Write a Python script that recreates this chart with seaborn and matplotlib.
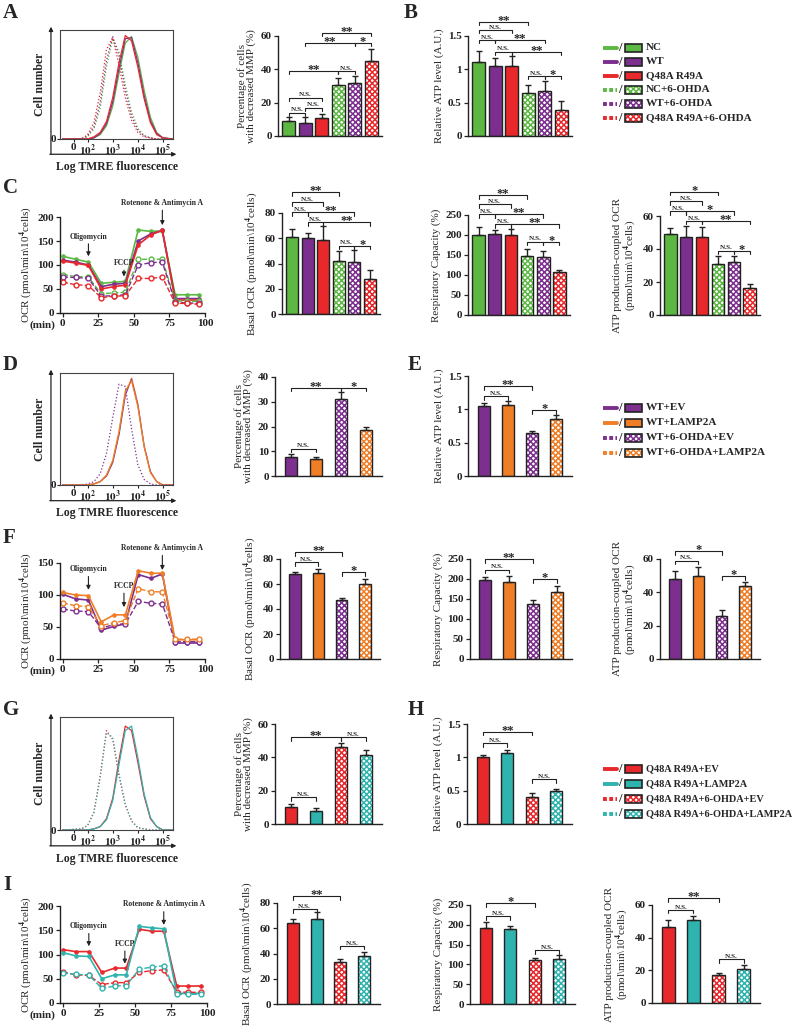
import numpy as np
import pandas as pd
import matplotlib
matplotlib.use("Agg")
import matplotlib.pyplot as plt
import seaborn as sns
from matplotlib.patches import Rectangle
from matplotlib.lines import Line2D

sns.set_style("ticks")
plt.rcParams['font.family'] = ['Liberation Serif', 'DejaVu Serif']
plt.rcParams['font.weight'] = 'bold'
plt.rcParams['mathtext.fontset'] = 'stix'
plt.rcParams['hatch.linewidth'] = 1.1

W, H = 800, 1027
DARK = '#222222'

GREEN = '#5cb843'
PURPLE = '#7d2f8f'
RED = '#e8282b'
ORANGE = '#f07e26'
TEAL = '#2fb3ae'

# ---- groups ----
groups_1 = ['NC', 'WT', 'Q48A R49A', 'NC+6-OHDA', 'WT+6-OHDA', 'Q48A R49A+6-OHDA']
colors_1 = [GREEN, PURPLE, RED, GREEN, PURPLE, RED]
treated_1 = [False, False, False, True, True, True]

groups_2 = ['WT+EV', 'WT+LAMP2A', 'WT+6-OHDA+EV', 'WT+6-OHDA+LAMP2A']
colors_2 = [PURPLE, ORANGE, PURPLE, ORANGE]
treated_2 = [False, False, True, True]

groups_3 = ['Q48A R49A+EV', 'Q48A R49A+LAMP2A', 'Q48A R49A+6-OHDA+EV', 'Q48A R49A+6-OHDA+LAMP2A']
colors_3 = [RED, TEAL, RED, TEAL]
treated_3 = [False, False, True, True]

# ---- flow cytometry histograms (log10 fluorescence vs % of max) ----
hist_x = [1.0, 1.75, 2.0, 2.25, 2.5, 2.75, 3.0, 3.25, 3.5, 3.75, 4.0, 4.25, 4.5, 4.75, 5.0, 5.4]
hist_A = [
    [0, 0, 0, 1, 4, 12, 30, 60, 88, 94, 75, 45, 20, 6, 1, 0],
    [0, 0, 0, 1, 5, 14, 34, 65, 92, 93, 70, 40, 17, 5, 1, 0],
    [0, 0, 0, 2, 6, 16, 38, 70, 95, 90, 66, 37, 15, 4, 1, 0],
    [0, 0, 2, 9, 28, 66, 92, 80, 50, 25, 10, 3, 1, 0, 0, 0],
    [0, 0, 3, 11, 33, 72, 94, 76, 45, 21, 8, 3, 1, 0, 0, 0],
    [0, 0, 4, 15, 42, 82, 93, 68, 38, 17, 6, 2, 1, 0, 0, 0],
]
hist_D = [
    [0, 0, 0, 1, 3, 8, 20, 45, 80, 95, 72, 35, 12, 3, 0, 0],
    [0, 0, 0, 1, 3, 9, 22, 48, 84, 93, 70, 34, 11, 3, 0, 0],
    [0, 0, 1, 3, 10, 28, 60, 90, 88, 50, 18, 5, 1, 0, 0, 0],
    [0, 0, 0, 1, 3, 8, 21, 46, 82, 96, 73, 36, 12, 3, 0, 0],
]
hist_G = [
    [0, 0, 0, 1, 3, 10, 28, 62, 92, 88, 60, 30, 10, 3, 0, 0],
    [0, 0, 0, 1, 3, 9, 26, 58, 88, 92, 64, 32, 11, 3, 0, 0],
    [0, 1, 4, 16, 48, 88, 80, 48, 22, 8, 2, 1, 0, 0, 0, 0],
    [0, 1, 4, 15, 46, 86, 82, 50, 23, 8, 2, 1, 0, 0, 0, 0],
]
hist_ticks = [1.45, 2, 3, 4, 5]
hist_ticklabels = ['0', '$10^2$', '$10^3$', '$10^4$', '$10^5$']

# ---- OCR time courses ----
ocr_time = [0, 9, 18, 27, 36, 44, 53, 62, 70, 79, 87, 96]
ocr_C = [
    [118, 112, 106, 62, 64, 66, 173, 170, 171, 38, 38, 38],
    [110, 106, 100, 55, 60, 62, 150, 165, 172, 30, 30, 30],
    [108, 104, 99, 50, 55, 58, 142, 163, 172, 27, 27, 27],
    [80, 76, 75, 40, 42, 43, 112, 112, 112, 25, 25, 24],
    [75, 74, 72, 35, 36, 38, 100, 105, 106, 22, 21, 20],
    [64, 59, 57, 32, 35, 36, 72, 72, 75, 20, 20, 18],
]
ocr_F = [
    [101, 94, 92, 45, 51, 55, 132, 126, 133, 25, 25, 25],
    [104, 100, 99, 58, 69, 69, 138, 134, 134, 30, 30, 30],
    [78, 75, 74, 48, 54, 55, 90, 87, 86, 27, 27, 27],
    [88, 83, 82, 52, 57, 60, 110, 105, 105, 31, 31, 31],
]
ocr_I = [
    [110, 106, 106, 63, 72, 72, 152, 148, 148, 35, 35, 35],
    [104, 97, 96, 50, 58, 58, 158, 155, 153, 20, 20, 20],
    [64, 58, 57, 38, 42, 42, 63, 67, 68, 23, 22, 22],
    [62, 59, 58, 30, 35, 36, 70, 74, 77, 18, 18, 18],
]
arrows_C = [('Oligomycin', 18, 118, 151), ('FCCP', 43, 76, 96), ('Rotenone & Antimycin A', 70, 183, 221)]
arrows_F = [('Oligomycin', 18, 108, 134), ('FCCP', 43, 81, 108), ('Rotenone & Antimycin A', 70, 139, 167)]
arrows_I = [('Oligomycin', 18, 117, 150), ('FCCP', 43, 81, 114), ('Rotenone & Antimycin A', 70, 161, 195)]

# ---- bar data (mean, SD) ----
mmp_A = [9, 8, 10.5, 30.5, 32, 45]
mmp_A_err = [2.5, 3.5, 2.5, 4, 4, 7]
atp_B = [1.11, 1.05, 1.05, 0.64, 0.68, 0.39]
atp_B_err = [0.16, 0.12, 0.15, 0.12, 0.15, 0.13]
basal_C = [61, 60, 59, 42, 41, 28]
basal_C_err = [6, 4, 11, 8, 10, 7]
resp_C = [201, 203, 201, 148, 145, 108]
resp_C_err = [18, 10, 14, 18, 15, 5]
atpocr_C = [49, 47.5, 47, 31, 32, 16.5]
atpocr_C_err = [4, 6.5, 6.5, 4.5, 3.5, 2]

mmp_D = [7.5, 7, 31, 18.5]
mmp_D_err = [1.3, 0.8, 3, 1.5]
atp_E = [1.05, 1.07, 0.64, 0.85]
atp_E_err = [0.05, 0.06, 0.04, 0.06]
basal_F = [68, 69, 47, 60]
basal_F_err = [2, 3, 1.5, 4]
resp_F = [198, 192, 138, 168]
resp_F_err = [8, 15, 10, 15]
atpocr_F = [48, 50, 26, 44]
atpocr_F_err = [5, 5, 3.5, 2.5]

mmp_G = [10, 8, 46, 41.5]
mmp_G_err = [2, 1.5, 2.5, 3]
atp_H = [1.0, 1.06, 0.41, 0.5]
atp_H_err = [0.04, 0.05, 0.05, 0.03]
basal_I = [64.5, 67.5, 33.5, 38]
basal_I_err = [2.5, 5, 2.5, 3.5]
resp_I = [192, 190, 110, 114]
resp_I_err = [15, 8, 5, 10]
atpocr_I = [46.5, 51, 17, 21]
atpocr_I_err = [4.5, 2.5, 1.2, 2.5]

# significance brackets: (bar i, bar j, height, label)
sig_A = [(0, 1, 14, 'N.S.'), (1, 2, 17, 'N.S.'), (0, 2, 23, 'N.S.'), (0, 3, 39, '**'),
         (3, 4, 39, 'N.S.'), (1, 4, 56, '**'), (4, 5, 56, '*'), (2, 5, 62, '**')]
sig_B = [(0, 3, 1.715, '**'), (0, 2, 1.59, 'N.S.'), (0, 1, 1.44, 'N.S.'), (1, 4, 1.44, '**'),
         (1, 2, 1.265, 'N.S.'), (2, 5, 1.265, '**'), (3, 4, 0.9, 'N.S.'), (4, 5, 0.9, '*')]
sig_C1 = [(0, 3, 96.4, '**'), (0, 2, 88.7, 'N.S.'), (0, 1, 80.5, 'N.S.'), (1, 4, 80.5, '**'),
          (1, 2, 72.6, 'N.S.'), (2, 5, 72.6, '**'), (3, 4, 54, 'N.S.'), (4, 5, 54, '*')]
sig_C2 = [(0, 3, 300, '**'), (0, 2, 277, 'N.S.'), (0, 1, 252, 'N.S.'), (1, 4, 252, '**'),
          (1, 2, 227, 'N.S.'), (2, 5, 227, '**'), (3, 4, 183, 'N.S.'), (4, 5, 183, '*')]
sig_C3 = [(0, 3, 74.7, '*'), (0, 2, 69, 'N.S.'), (0, 1, 63, 'N.S.'), (1, 4, 63, '*'),
          (1, 2, 57, 'N.S.'), (2, 5, 57, '**'), (3, 4, 39, 'N.S.'), (4, 5, 39, '*')]
sig_D = [(0, 1, 11.1, 'N.S.'), (0, 2, 35.7, '**'), (2, 3, 35.7, '*')]
sig_E = [(0, 2, 1.35, '**'), (0, 1, 1.2, 'N.S.'), (2, 3, 0.99, '*')]
sig_F1 = [(0, 2, 85.5, '**'), (0, 1, 77.5, 'N.S.'), (2, 3, 69.4, '*')]
sig_F2 = [(0, 2, 250, '**'), (0, 1, 223, 'N.S.'), (2, 3, 200, '*')]
sig_F3 = [(0, 2, 64.6, '*'), (0, 1, 59, 'N.S.'), (2, 3, 49.6, '*')]
sig_G = [(0, 1, 16, 'N.S.'), (0, 2, 52, '**'), (2, 3, 52, 'N.S.')]
sig_H = [(0, 2, 1.385, '**'), (0, 1, 1.21, 'N.S.'), (2, 3, 0.67, 'N.S.')]
sig_I1 = [(0, 2, 85.3, '**'), (0, 1, 75.2, 'N.S.'), (2, 3, 46, 'N.S.')]
sig_I2 = [(0, 2, 254, '*'), (0, 1, 222, 'N.S.'), (2, 3, 136, 'N.S.')]
sig_I3 = [(0, 2, 64, '**'), (0, 1, 57, 'N.S.'), (2, 3, 26.8, 'N.S.')]

OCR_LABEL = r'OCR (pmol\min\10$^4$cells)'
BASAL_LABEL = r'Basal OCR (pmol\min\10$^4$cells)'
RESP_LABEL = 'Respiratory Capacity (%)'
ATPOCR_LABEL = 'ATP production-coupled OCR\n' + r'(pmol\min\10$^4$cells)'
MMP_LABEL = 'Percentage of cells\nwith decreased MMP (%)'
ATP_LABEL = 'Relative ATP level (A.U.)'

fig = plt.figure(figsize=(8, 10.27), dpi=100)


def add_px_axes(x0, x1, ytop, ybot):
    return fig.add_axes([x0 / W, 1 - ybot / H, (x1 - x0) / W, (ybot - ytop) / H])


def style_axes(ax):
    sns.despine(ax=ax)
    ax.tick_params(axis='both', labelsize=8, width=0.9, length=3, pad=1.5, colors=DARK)
    for s in ['left', 'bottom']:
        ax.spines[s].set_linewidth(1.0)
        ax.spines[s].set_color(DARK)


def bar_panel(rect, values, errs, groups, colors, treated, ylim, yticks, ylabel, sig, width):
    ax = add_px_axes(*rect)
    df = pd.DataFrame({'group': groups, 'value': values})
    sns.barplot(data=df, x='group', y='value', hue='group', palette=colors, legend=False,
                errorbar=None, width=width, edgecolor=DARK, linewidth=1.0, saturation=1, ax=ax)
    centers = []
    for p, col, hat in zip(ax.patches, colors, treated):
        centers.append(p.get_x() + p.get_width() / 2)
        if hat:
            p.set_facecolor('white')
            p.set_edgecolor(col)
            p.set_hatch('xxxxxx')
            p.set_linewidth(0)
            ax.add_patch(Rectangle(p.get_xy(), p.get_width(), p.get_height(),
                                   fill=False, edgecolor=DARK, linewidth=1.0, zorder=p.get_zorder() + 0.1))
    ax.errorbar(centers, values, yerr=[np.zeros(len(values)), errs], fmt='none',
                ecolor=DARK, elinewidth=1.0, capsize=2.5, capthick=1.0, zorder=1)
    ax.set_ylim(*ylim)
    ax.set_yticks(yticks)
    ax.set_yticklabels([('%g' % t) for t in yticks])
    ax.set_xlim(-0.65, len(values) - 0.35)
    ax.set_xticks([])
    ax.set_xlabel('')
    ax.set_ylabel(ylabel, fontsize=8, labelpad=3, linespacing=1.0)
    style_axes(ax)
    ymax = ylim[1]
    tick = 0.035 * ymax
    for i, j, y, lab in sig:
        x0, x1 = centers[i], centers[j]
        ax.plot([x0, x0, x1, x1], [y - tick, y, y, y - tick], color=DARK, lw=0.8, clip_on=False)
        if lab == 'N.S.':
            ax.text((x0 + x1) / 2, y + 0.004 * ymax, lab, ha='center', va='bottom', fontsize=5.2, clip_on=False)
        else:
            ax.text((x0 + x1) / 2, y - 0.05 * ymax, lab, ha='center', va='bottom', fontsize=9, clip_on=False)
    return ax


def ocr_panel(rect, series, colors, treated, ylim, yticks, arrows):
    ax = add_px_axes(*rect)
    for vals, col, dash in zip(series, colors, treated):
        if dash:
            sns.lineplot(x=ocr_time, y=vals, color=col, linestyle='--', linewidth=1.0, marker='o',
                         markersize=3.5, markerfacecolor='white', markeredgecolor=col, markeredgewidth=1.0, ax=ax)
        else:
            sns.lineplot(x=ocr_time, y=vals, color=col, linestyle='-', linewidth=1.2, marker='o',
                         markersize=2.5, markerfacecolor=col, markeredgecolor=col, ax=ax)
    ax.set_xlim(-2, 100)
    ax.set_ylim(*ylim)
    ax.set_xticks([0, 25, 50, 75, 100])
    ax.set_yticks(yticks)
    ax.set_ylabel(OCR_LABEL, fontsize=8, labelpad=2)
    style_axes(ax)
    ax.text(-0.03, -0.075, '(min)', transform=ax.transAxes, ha='right', va='top', fontsize=8)
    for lab, xt, ytip, ytext in arrows:
        ax.annotate(lab, xy=(xt, ytip), xytext=(xt, ytext), ha='center', va='bottom', fontsize=5.5,
                    annotation_clip=False,
                    arrowprops=dict(arrowstyle='-|>', color=DARK, lw=0.8, mutation_scale=6, shrinkA=0, shrinkB=0))
    return ax


def hist_panel(rect, curves, colors, treated):
    ax = add_px_axes(*rect)
    for vals, col, dot in zip(curves, colors, treated):
        sns.lineplot(x=hist_x, y=vals, color=col, linewidth=0.9, linestyle=':' if dot else '-', ax=ax)
    ax.set_xlim(0.9, 5.4)
    ax.set_ylim(0, 100)
    ax.set_xticks(hist_ticks)
    ax.set_xticklabels(hist_ticklabels)
    ax.set_yticks([0])
    ax.set_yticklabels(['0'])
    ax.tick_params(axis='both', labelsize=8, width=0.8, length=2, pad=1, colors=DARK)
    for s in ax.spines.values():
        s.set_linewidth(0.8)
        s.set_color('#444444')
    arrow = dict(arrowstyle='-|>', color=DARK, lw=0.9, mutation_scale=6, shrinkA=0, shrinkB=0)
    ax.annotate('', xy=(1.03, -0.14), xytext=(-0.09, -0.14), xycoords='axes fraction', arrowprops=arrow)
    ax.annotate('', xy=(-0.08, 1.03), xytext=(-0.08, -0.14), xycoords='axes fraction', arrowprops=arrow)
    ax.text(0.5, -0.2, 'Log TMRE fluorescence', transform=ax.transAxes, ha='center', va='top', fontsize=8.5)
    ax.text(-0.18, 0.5, 'Cell number', transform=ax.transAxes, ha='center', va='center',
            rotation=90, fontsize=8.5)
    return ax


def legend_block(x0, y0, labels, colors, treated, row_h, fs):
    ax = add_px_axes(x0, x0 + 195, y0, y0 + row_h * len(labels))
    ax.set_xlim(0, 195)
    ax.set_ylim(row_h * len(labels), 0)
    ax.axis('off')
    for k, (lab, col, hat) in enumerate(zip(labels, colors, treated)):
        y = row_h * k + row_h / 2
        ax.add_line(Line2D([0, 14], [y, y], color=col, lw=2.8, linestyle=(0, (1, 0.6)) if hat else '-'))
        ax.text(17, y, '/', ha='center', va='center', fontsize=9)
        if hat:
            ax.add_patch(Rectangle((22, y - 4), 17, 8, facecolor='white', edgecolor=col, hatch='xxxxxx', lw=0))
            ax.add_patch(Rectangle((22, y - 4), 17, 8, fill=False, edgecolor=DARK, lw=1.2))
        else:
            ax.add_patch(Rectangle((22, y - 4), 17, 8, facecolor=col, edgecolor=DARK, lw=1.2))
        ax.text(43, y, lab, ha='left', va='center', fontsize=fs)


# ---- row A / B ----
hist_panel((60, 173, 30, 139), hist_A, colors_1, treated_1)
bar_panel((278, 382, 36, 136), mmp_A, mmp_A_err, groups_1, colors_1, treated_1,
          (0, 60), [0, 20, 40, 60], MMP_LABEL, sig_A, 0.78)
bar_panel((468, 572, 36, 136), atp_B, atp_B_err, groups_1, colors_1, treated_1,
          (0, 1.5), [0, 0.5, 1.0, 1.5], ATP_LABEL, sig_B, 0.78)
legend_block(603, 41, groups_1, colors_1, treated_1, 14, 8)

# ---- row C ----
ocr_panel((60, 205, 217, 313), ocr_C, colors_1, treated_1, (0, 200), [0, 50, 100, 150, 200], arrows_C)
bar_panel((282, 380, 213, 314), basal_C, basal_C_err, groups_1, colors_1, treated_1,
          (0, 80), [0, 20, 40, 60, 80], BASAL_LABEL, sig_C1, 0.78)
bar_panel((468, 570, 215, 315), resp_C, resp_C_err, groups_1, colors_1, treated_1,
          (0, 250), [0, 50, 100, 150, 200, 250], RESP_LABEL, sig_C2, 0.78)
bar_panel((660, 760, 216, 315), atpocr_C, atpocr_C_err, groups_1, colors_1, treated_1,
          (0, 60), [0, 20, 40, 60], ATPOCR_LABEL, sig_C3, 0.78)

# ---- row D / E ----
hist_panel((60, 173, 373, 485), hist_D, colors_2, treated_2)
bar_panel((275, 382, 377, 476), mmp_D, mmp_D_err, groups_2, colors_2, treated_2,
          (0, 40), [0, 10, 20, 30, 40], MMP_LABEL, sig_D, 0.5)
bar_panel((468, 572, 376, 476), atp_E, atp_E_err, groups_2, colors_2, treated_2,
          (0, 1.5), [0, 0.5, 1.0, 1.5], ATP_LABEL, sig_E, 0.5)
legend_block(603, 400, groups_2, colors_2, treated_2, 15, 8)

# ---- row F ----
ocr_panel((60, 205, 563, 659), ocr_F, colors_2, treated_2, (0, 150), [0, 50, 100, 150], arrows_F)
bar_panel((280, 380, 559, 659), basal_F, basal_F_err, groups_2, colors_2, treated_2,
          (0, 80), [0, 20, 40, 60, 80], BASAL_LABEL, sig_F1, 0.5)
bar_panel((470, 572, 559, 659), resp_F, resp_F_err, groups_2, colors_2, treated_2,
          (0, 250), [0, 50, 100, 150, 200, 250], RESP_LABEL, sig_F2, 0.5)
bar_panel((660, 760, 559, 659), atpocr_F, atpocr_F_err, groups_2, colors_2, treated_2,
          (0, 60), [0, 20, 40, 60], ATPOCR_LABEL, sig_F3, 0.5)

# ---- row G / H ----
hist_panel((60, 173, 717, 830), hist_G, colors_3, treated_3)
bar_panel((275, 382, 724, 824), mmp_G, mmp_G_err, groups_3, colors_3, treated_3,
          (0, 60), [0, 20, 40, 60], MMP_LABEL, sig_G, 0.5)
bar_panel((467, 572, 724, 824), atp_H, atp_H_err, groups_3, colors_3, treated_3,
          (0, 1.5), [0, 0.5, 1.0, 1.5], ATP_LABEL, sig_H, 0.5)
legend_block(603, 761, groups_3, colors_3, treated_3, 15, 7.4)

# ---- row I ----
ocr_panel((60, 207, 906, 1003), ocr_I, colors_3, treated_3, (0, 200), [0, 50, 100, 150, 200], arrows_I)
bar_panel((277, 380, 903, 1004), basal_I, basal_I_err, groups_3, colors_3, treated_3,
          (0, 80), [0, 20, 40, 60, 80], BASAL_LABEL, sig_I1, 0.5)
bar_panel((470, 575, 905, 1004), resp_I, resp_I_err, groups_3, colors_3, treated_3,
          (0, 250), [0, 50, 100, 150, 200, 250], RESP_LABEL, sig_I2, 0.5)
bar_panel((652, 760, 905, 1003), atpocr_I, atpocr_I_err, groups_3, colors_3, treated_3,
          (0, 60), [0, 20, 40, 60], ATPOCR_LABEL, sig_I3, 0.5)

# ---- panel letters ----
for lab, x, y in [('A', 3, 3), ('B', 404, 3), ('C', 3, 178), ('D', 3, 355), ('E', 408, 355),
                  ('F', 3, 528), ('G', 3, 700), ('H', 408, 700), ('I', 3, 875)]:
    fig.text(x / W, 1 - y / H, lab, ha='left', va='top', fontsize=15, fontweight='bold')

fig.savefig('out.png', dpi=100, facecolor='white')
